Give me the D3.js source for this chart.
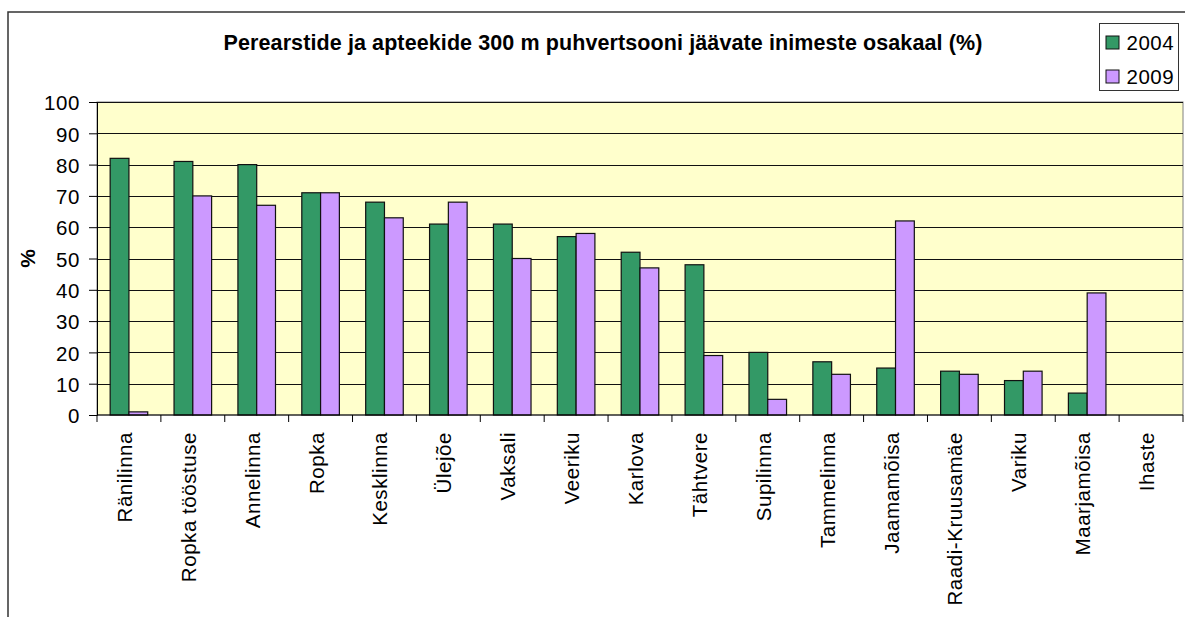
<!DOCTYPE html>
<html>
<head>
<meta charset="utf-8">
<script src="https://cdn.jsdelivr.net/npm/d3@7"></script>
<style>
  html, body { margin: 0; padding: 0; background: #fff; }
  svg { display: block; }
  text { font-family: "Liberation Sans", Arial, sans-serif; }
</style>
</head>
<body>
<svg id="chart" width="1185" height="617"></svg>
<script>
const categories = ["Ränilinna", "Ropka tööstuse", "Annelinna", "Ropka", "Kesklinna", "Ülejõe", "Vaksali", "Veeriku", "Karlova", "Tähtvere", "Supilinna", "Tammelinna", "Jaamamõisa", "Raadi-Kruusamäe", "Variku", "Maarjamõisa", "Ihaste"];
const seriesNames = ["2004", "2009"];
const values2004 = [82, 81, 80, 71, 68, 61, 61, 57, 52, 48, 20, 17, 15, 14, 11, 7, null];
const values2009 = [1, 70, 67, 71, 63, 68, 50, 58, 47, 19, 5, 13, 62, 13, 14, 39, null];
const yTicks = [0, 10, 20, 30, 40, 50, 60, 70, 80, 90, 100];
const titleText = "Perearstide ja apteekide 300 m puhvertsooni jäävate inimeste osakaal (%)";
const yAxisTitle = "%";
const colors = ["#339966", "#CC99FF"];

const svg = d3.select("#chart");
const W = 1185, H = 617;
const plot = { left: 97, right: 1183, top: 102, bottom: 415 };

// outer chart frame
svg.append("rect").attr("x", 8).attr("y", 12).attr("width", W + 20).attr("height", H + 20)
  .attr("fill", "#fff").attr("stroke", "#333").attr("stroke-width", 1.5);

const x0 = d3.scaleBand().domain(categories).range([plot.left, plot.right]).padding(0);
const x1 = d3.scaleBand().domain(seriesNames).range([0, x0.bandwidth()]).paddingInner(0).paddingOuter(0.7);
const y = d3.scaleLinear().domain([0, 100]).range([plot.bottom, plot.top]);

// plot background
svg.append("rect").attr("x", plot.left).attr("y", plot.top)
  .attr("width", plot.right - plot.left).attr("height", plot.bottom - plot.top)
  .attr("fill", "#FFFFCC").attr("stroke", "#808080").attr("stroke-width", 1);

// gridlines
svg.append("g").selectAll("line").data(yTicks.filter(t => t > 0)).join("line")
  .attr("x1", plot.left).attr("x2", plot.right)
  .attr("y1", d => Math.round(y(d)) + 0.5).attr("y2", d => Math.round(y(d)) + 0.5)
  .attr("stroke", "#111").attr("stroke-width", 1);

// bars
const data = categories.map((c, i) => ({ cat: c, vals: [values2004[i], values2009[i]] }));
const groups = svg.append("g").selectAll("g").data(data).join("g")
  .attr("transform", d => `translate(${x0(d.cat)},0)`);
groups.selectAll("rect")
  .data(d => d.vals.map((v, j) => ({ key: seriesNames[j], v, j })).filter(e => e.v !== null))
  .join("rect")
  .attr("x", e => x1(e.key))
  .attr("width", x1.bandwidth())
  .attr("y", e => y(e.v))
  .attr("height", e => y(0) - y(e.v))
  .attr("fill", e => colors[e.j])
  .attr("stroke", "#111").attr("stroke-width", 1.2);

// y axis
const yAxis = d3.axisLeft(y).tickValues(yTicks).tickSize(8).tickPadding(9);
const yg = svg.append("g").attr("transform", `translate(${plot.left},0)`).call(yAxis);
yg.select(".domain").attr("stroke", "#000");
yg.selectAll(".tick line").attr("stroke", "#000");
yg.selectAll(".tick text").attr("font-size", "20.5px").attr("fill", "#000")
  .attr("letter-spacing", "0.6px")
  .attr("font-family", "'Liberation Sans', Arial, sans-serif").attr("dy", "0.38em");

// x axis
const xg = svg.append("g").attr("transform", `translate(0,${plot.bottom})`);
xg.append("line").attr("x1", plot.left).attr("x2", plot.right).attr("y1", 0).attr("y2", 0).attr("stroke", "#000");
const boundaries = categories.map(c => x0(c)).concat([plot.right]);
xg.selectAll("line.tk").data(boundaries).join("line").attr("class", "tk")
  .attr("x1", d => d).attr("x2", d => d).attr("y1", 0).attr("y2", 7).attr("stroke", "#000");
xg.selectAll("text").data(categories).join("text")
  .attr("transform", d => `translate(${x0(d) + x0.bandwidth() / 2},17) rotate(-90)`)
  .attr("text-anchor", "end").attr("dy", 3)
  .attr("font-size", "20.5px").attr("letter-spacing", "0.55px").attr("fill", "#000")
  .text(d => d);

// title
svg.append("text").attr("x", 603).attr("y", 50).attr("text-anchor", "middle")
  .attr("font-size", "21.5px").attr("font-weight", "bold").attr("fill", "#000")
  .attr("letter-spacing", "0.1px")
  .text(titleText);

// y axis title
svg.append("text").attr("transform", `translate(35,${(plot.top + plot.bottom) / 2}) rotate(-90)`)
  .attr("text-anchor", "middle").attr("font-size", "21px").attr("font-weight", "bold")
  .text(yAxisTitle);

// legend
const lg = svg.append("g");
lg.append("rect").attr("x", 1099.5).attr("y", 23.5).attr("width", 79).attr("height", 67)
  .attr("fill", "#fff").attr("stroke", "#333").attr("stroke-width", 1);
const items = lg.selectAll("g").data(seriesNames).join("g")
  .attr("transform", (d, i) => `translate(1106,${36 + i * 34})`);
items.append("rect").attr("width", 13).attr("height", 13)
  .attr("fill", (d, i) => colors[i]).attr("stroke", "#111").attr("stroke-width", 1);
items.append("text").attr("x", 20.5).attr("y", 13.5).attr("font-size", "20.5px")
  .attr("letter-spacing", "0.5px")
  .attr("fill", "#000").text(d => d);
</script>
</body>
</html>
